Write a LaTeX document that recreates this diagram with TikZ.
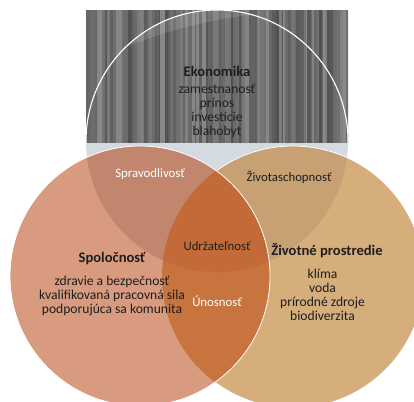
\documentclass[tikz,border=0pt]{standalone}
\usepackage{fontspec}
\setmainfont{Carlito}
\definecolor{bandgray}{HTML}{D4DBE0}
\definecolor{Lcol}{HTML}{D99B80}
\definecolor{Rcol}{HTML}{D5AE7C}
\definecolor{LRcol}{HTML}{C8743F}
\definecolor{LTcol}{HTML}{C2866F}
\definecolor{RTcol}{HTML}{C7A174}
\definecolor{LRTcol}{HTML}{C26B39}
\definecolor{txt}{HTML}{1E1E1E}
\begin{document}
\begin{tikzpicture}[x=1pt,y=-1pt,
  titletext/.style={text=txt, font=\fontsize{14.6}{16}\selectfont\bfseries, inner sep=0pt},
  bodytext/.style={text=txt, font=\fontsize{13.6}{13.9}\selectfont, align=center, inner sep=0pt},
  lbltext/.style={text=txt, font=\fontsize{12.8}{14}\selectfont, inner sep=0pt},
  whitelbl/.style={lbltext, text=white},
  rim/.style={draw=white, line width=0.8pt}]
\useasboundingbox (0,0) rectangle (414,401);
\clip (0,0) rectangle (414,401);
\coordinate (T) at (217,141);
\coordinate (L) at (140,276);
\coordinate (R) at (293,277);
\begin{scope}
  \clip (86,10) rectangle (348,143);
  \fill[black!58] (86,10) rectangle (348,143);
  \pgfmathsetseed{5}
  \xdef\sx{86}
  \foreach \i in {0,...,130} {
    \pgfmathsetmacro\w{1.4+2.6*rnd}
    \pgfmathrandominteger{\g}{46}{68}
    \fill[black!\g] (\sx,10) rectangle ({\sx+\w+0.3},143);
    \pgfmathsetmacro\nx{\sx+\w}
    \xdef\sx{\nx}
  }
  \begin{scope}
    \clip (T) circle (131);
    \fill[white, opacity=0.12] (80,75) .. controls (130,35) and (220,12) .. (330,8) -- (80,0) -- cycle;
  \end{scope}
  \draw[white, line width=1.1pt] (T) circle (131);
\end{scope}
\begin{scope}
  \clip (0,143) rectangle (414,401);
  \fill[bandgray] (T) circle (131);
\end{scope}
\fill[Rcol] (R) circle (131);
\begin{scope}
  \clip (R) circle (131);
  \fill[RTcol] (T) circle (131);
\end{scope}
\draw[rim] (R) circle (131);
\fill[Lcol] (L) circle (130);
\begin{scope}
  \clip (L) circle (130);
  \fill[LTcol] (T) circle (131);
  \fill[LRcol] (R) circle (131);
  \clip (R) circle (131);
  \fill[LRTcol] (T) circle (131);
\end{scope}
\draw[rim] (L) circle (130);
\node[titletext] (eko) at (217,71) {Ekonomika};
\node[bodytext] (ekob) at (217,111) {zamestnanosť\\prínos\\investície\\blahobyt};
\node[titletext] (spo) at (112,259) {Spoločnosť};
\node[bodytext] (spob) at (112,296) {zdravie a bezpečnosť\\kvalifikovaná pracovná sila\\podporujúca sa komunita};
\node[titletext] (ziv) at (327,251) {Životné prostredie};
\node[bodytext] (zivb) at (322.5,295) {klíma\\voda\\prírodné zdroje\\biodiverzita};
\node[whitelbl] (spr) at (150,174) {Spravodlivosť};
\node[lbltext] (zch) at (289,177) {Životaschopnosť};
\node[lbltext] (udr) at (217,246) {Udržateľnosť};
\node[whitelbl] (uno) at (217,301) {Únosnosť};
\end{tikzpicture}
\end{document}
